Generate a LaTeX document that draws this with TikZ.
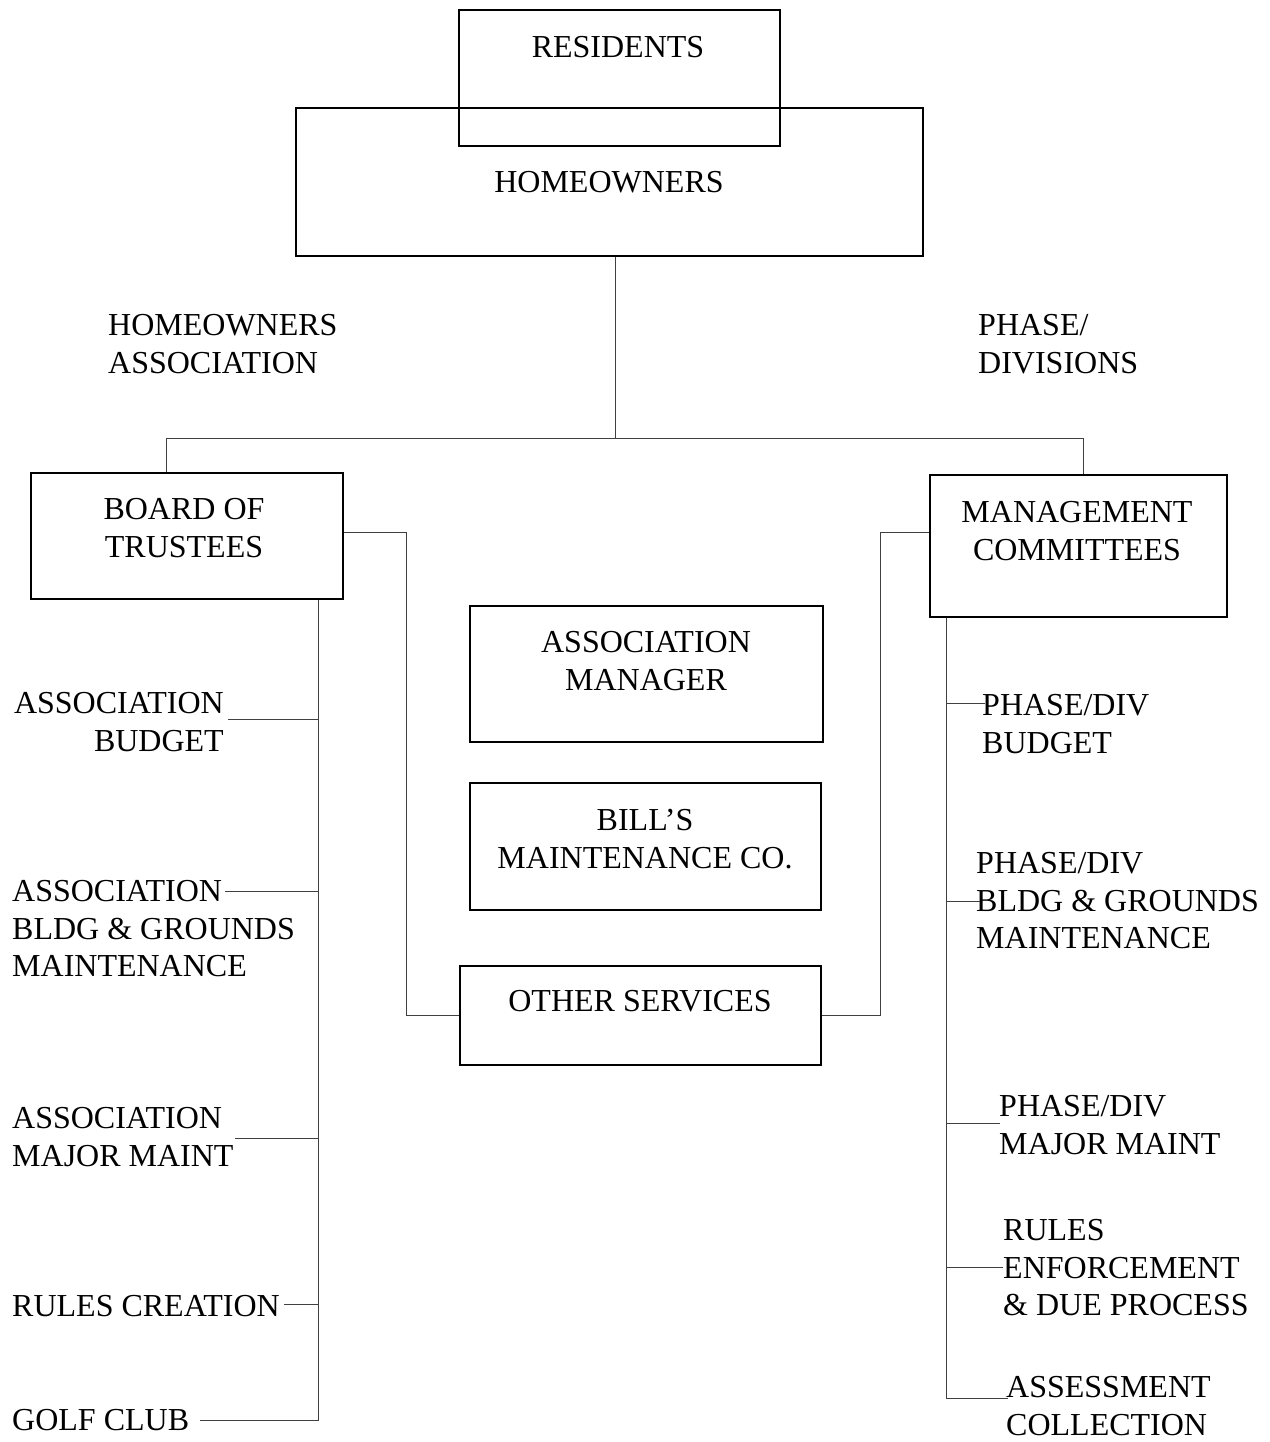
\documentclass[tikz,border=0pt]{standalone}
\usepackage{fontspec}
\setmainfont{Liberation Serif}
\begin{document}
\begin{tikzpicture}[x=1pt,y=-1pt,
  box/.style={draw=black, line width=1.8pt, anchor=north west, inner sep=0pt},
  txt/.style={font=\fontsize{32}{37.5}\selectfont, inner sep=0pt, anchor=north west, align=left},
  ctxt/.style={font=\fontsize{32}{37.5}\selectfont, inner sep=0pt, anchor=north, align=center},
  conn/.style={draw=black!75, line width=1pt}]
\useasboundingbox (0,0) rectangle (1269,1442);
% boxes
\node[box, minimum width=627pt, minimum height=148pt] (hom) at (295,107) {};
\node[box, minimum width=321pt, minimum height=136pt] (res) at (458,9) {};
\node[box, minimum width=312pt, minimum height=126pt] (bot) at (30,472) {};
\node[box, minimum width=297pt, minimum height=142pt] (mgt) at (929,474) {};
\node[box, minimum width=353pt, minimum height=136pt] (am) at (469,605) {};
\node[box, minimum width=351pt, minimum height=127pt] (bm) at (469,782) {};
\node[box, minimum width=361pt, minimum height=99pt] (oth) at (459,965) {};
% box texts
\node[ctxt] (resT) at (618,31.35) {\strut RESIDENTS};
\node[ctxt] (homT) at (609,166.35) {\strut HOMEOWNERS};
\node[ctxt] (botT) at (184,493.35) {\strut BOARD OF\\TRUSTEES};
\node[ctxt] (mgtT) at (1077,496.35) {\strut MANAGEMENT\\COMMITTEES};
\node[ctxt] (amT) at (646,626.35) {\strut ASSOCIATION\\MANAGER};
\node[ctxt] (bmT) at (645,804.35) {\strut BILL’S\\MAINTENANCE CO.};
\node[ctxt] (othT) at (640,985.35) {\strut OTHER SERVICES};
% free labels
\node[txt] (hoa) at (108,309.35) {\strut HOMEOWNERS\\ASSOCIATION};
\node[txt] (phd) at (978,309.35) {\strut PHASE/\\DIVISIONS};
% left labels
\node[txt, anchor=north east, align=right] (ab) at (224,687.35) {\strut ASSOCIATION\\BUDGET};
\node[txt] (abg) at (12,875.35) {\strut ASSOCIATION\\BLDG \& GROUNDS\\MAINTENANCE};
\node[txt] (amm) at (12,1102.35) {\strut ASSOCIATION\\MAJOR MAINT};
\node[txt] (rc) at (12,1290.35) {\strut RULES CREATION};
\node[txt] (gc) at (12,1404.35) {\strut GOLF CLUB};
% right labels
\node[txt] (pb) at (982,689.35) {\strut PHASE/DIV\\BUDGET};
\node[txt] (pbg) at (976,847.35) {\strut PHASE/DIV\\BLDG \& GROUNDS\\MAINTENANCE};
\node[txt] (pmm) at (999,1090.35) {\strut PHASE/DIV\\MAJOR MAINT};
\node[txt] (re) at (1003,1214.35) {\strut RULES\\ENFORCEMENT\\\& DUE PROCESS};
\node[txt] (ac) at (1006,1371.35) {\strut ASSESSMENT\\COLLECTION};
% top connectors
\coordinate (hj) at (615,438);
\coordinate (jl) at (166,438);
\coordinate (jr) at (1083,438);
\draw[conn] (hom.south -| hj) -- (hj);
\draw[conn] (jl) -- (jr);
\draw[conn] (jl) -- (jl |- bot.north);
\draw[conn] (jr) -- (jr |- mgt.north);
\coordinate (bk) at (406,532);
\draw[conn] (bot.east |- bk) -- (bk) |- (oth.west);
\coordinate (mk) at (880,532);
\draw[conn] (mgt.west |- mk) -- (mk) |- (oth.east);
% left trunk
\coordinate (lt) at (318,1420);
\coordinate (lb1) at (228,719);
\coordinate (lb2) at (225,891);
\coordinate (lb3) at (235,1138);
\coordinate (lb4) at (284,1304);
\coordinate (lb5) at (200,1420);
\draw[conn] (bot.south -| lt) -- (lt) -- (lb5);
\draw[conn] (lb1) -- (lb1 -| lt);
\draw[conn] (lb2) -- (lb2 -| lt);
\draw[conn] (lb3) -- (lb3 -| lt);
\draw[conn] (lb4) -- (lb4 -| lt);
% right trunk
\coordinate (rt) at (946,1398);
\coordinate (rb1) at (985,703);
\coordinate (rb2) at (980,901);
\coordinate (rb3) at (1000,1123);
\coordinate (rb4) at (1003,1267);
\coordinate (rb5) at (1008,1398);
\draw[conn] (mgt.south -| rt) -- (rt) -- (rb5);
\draw[conn] (rb1 -| rt) -- (rb1);
\draw[conn] (rb2 -| rt) -- (rb2);
\draw[conn] (rb3 -| rt) -- (rb3);
\draw[conn] (rb4 -| rt) -- (rb4);
\end{tikzpicture}
\end{document}
